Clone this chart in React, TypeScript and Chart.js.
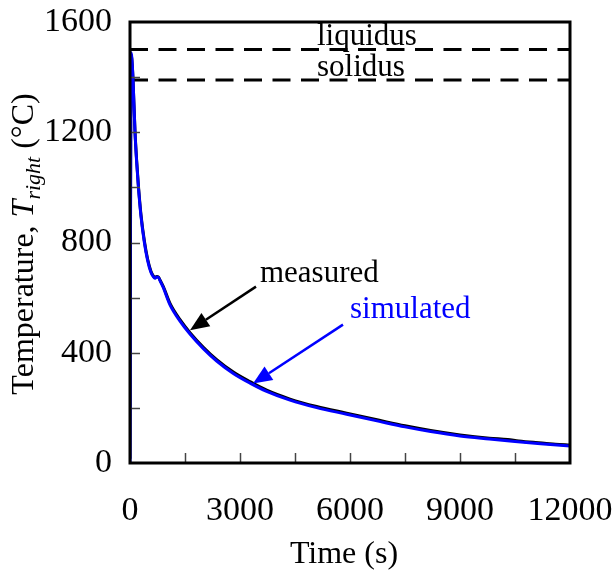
import React, { useEffect, useRef } from "react";
import { Chart, registerables } from "chart.js";
Chart.register(...registerables);

const FONT = "'Liberation Serif', 'Times New Roman', Times, serif";

// simulated (blue)
const simTime = [0, 30, 50, 82, 136, 180, 227, 300, 391, 480, 573, 640, 682, 730, 773, 830, 909, 1091, 1364, 1636, 2000, 2364, 2818, 3273, 3727, 4364, 5091, 5909, 6800, 7500, 8200, 9000, 9800, 10500, 11200, 12000];
const simTemp = [0, 1488, 1470, 1393, 1202, 1095, 1005, 895, 801, 735, 691, 675, 670, 675, 674, 658, 636, 574, 515, 468, 415, 370, 325, 290, 260, 228, 201, 177, 151, 131, 114, 98, 87, 78, 70, 62];

// measured (black)
const measTime = [0, 30, 50, 82, 136, 180, 227, 300, 391, 480, 573, 640, 682, 730, 773, 830, 909, 1091, 1364, 1636, 2000, 2364, 2818, 3273, 3727, 4364, 5091, 5909, 6800, 7500, 8200, 9000, 9800, 10300, 10600, 11000, 11300, 11600, 12000];
const measTemp = [15, 1482, 1465, 1392, 1205, 1100, 1010, 900, 806, 740, 695, 678, 672, 677, 675, 661, 640, 579, 520, 473, 420, 375, 330, 295, 264, 232, 205, 181, 155, 135, 118, 102, 90, 85, 80, 75, 72, 68, 65];

const liquidusT = 1500;
const solidusT = 1390;

const xMinorTicks = [1500, 3000, 4500, 6000, 7500, 9000, 10500];
const yMinorTicks = [200, 400, 600, 800, 1000, 1200, 1400];

const labels = [
  { text: "liquidus", t: 5100, T: 1516, color: "#000" },
  { text: "solidus", t: 5100, T: 1403, color: "#000" },
  { text: "measured", t: 3545, T: 655, color: "#000" },
  { text: "simulated", t: 6000, T: 527, color: "#0000ff" },
];

const arrows = [
  { t0: 3436, T0: 640, t1: 1636, T1: 482, color: "#000" },
  { t0: 5809, T0: 502, t1: 3355, T1: 288, color: "#0000ff" },
];

const decor = {
  id: "decor",
  afterDatasetsDraw(chart: any) {
    const { ctx, chartArea: a, scales } = chart;
    const x = scales.x;
    const y = scales.y;
    ctx.save();
    // inside ticks
    ctx.strokeStyle = "#444";
    ctx.lineWidth = 1.5;
    for (const v of xMinorTicks) {
      const px = Math.round(x.getPixelForValue(v)) + 0.5;
      ctx.beginPath();
      ctx.moveTo(px, a.bottom);
      ctx.lineTo(px, a.bottom - 10);
      ctx.stroke();
    }
    for (const v of yMinorTicks) {
      const py = Math.round(y.getPixelForValue(v)) + 0.5;
      ctx.beginPath();
      ctx.moveTo(a.left, py);
      ctx.lineTo(a.left + 10, py);
      ctx.stroke();
    }
    // frame
    ctx.strokeStyle = "#000";
    ctx.lineWidth = 3;
    ctx.strokeRect(a.left, a.top, a.right - a.left, a.bottom - a.top);

    // labels
    ctx.font = `31px ${FONT}`;
    ctx.textAlign = "left";
    ctx.textBaseline = "alphabetic";
    for (const l of labels) {
      ctx.fillStyle = l.color;
      ctx.fillText(l.text, x.getPixelForValue(l.t), y.getPixelForValue(l.T));
    }
    // arrows
    for (const ar of arrows) {
      const x0 = x.getPixelForValue(ar.t0), y0 = y.getPixelForValue(ar.T0);
      const x1 = x.getPixelForValue(ar.t1), y1 = y.getPixelForValue(ar.T1);
      const ang = Math.atan2(y1 - y0, x1 - x0);
      const hl = 19, hw = 8;
      const bx = x1 - hl * Math.cos(ang), by = y1 - hl * Math.sin(ang);
      ctx.strokeStyle = ar.color;
      ctx.fillStyle = ar.color;
      ctx.lineWidth = 2.5;
      ctx.beginPath();
      ctx.moveTo(x0, y0);
      ctx.lineTo(bx, by);
      ctx.stroke();
      ctx.beginPath();
      ctx.moveTo(x1, y1);
      ctx.lineTo(bx + hw * Math.sin(ang), by - hw * Math.cos(ang));
      ctx.lineTo(bx - hw * Math.sin(ang), by + hw * Math.cos(ang));
      ctx.closePath();
      ctx.fill();
    }

    // x title
    ctx.fillStyle = "#000";
    ctx.font = `32px ${FONT}`;
    ctx.textAlign = "center";
    ctx.textBaseline = "alphabetic";
    ctx.fillText("Time (s)", 344, 563);

    // y title (rotated, mixed styles)
    const parts = [
      { s: "Temperature, ", f: `32px ${FONT}`, dy: 0 },
      { s: "T", f: `italic 32px ${FONT}`, dy: 0 },
      { s: "right", f: `italic 22px ${FONT}`, dy: 7 },
      { s: " (°C)", f: `32px ${FONT}`, dy: 0 },
    ];
    let total = 0;
    for (const p of parts) {
      ctx.font = p.f;
      total += ctx.measureText(p.s).width;
    }
    ctx.translate(33, 244);
    ctx.rotate(-Math.PI / 2);
    ctx.textAlign = "left";
    let cx = -total / 2;
    for (const p of parts) {
      ctx.font = p.f;
      ctx.fillText(p.s, cx, p.dy);
      cx += ctx.measureText(p.s).width;
    }
    ctx.restore();
  },
};

const zeroPad = (s: any) => {
  s.paddingLeft = 0;
  s.paddingRight = 0;
  s.paddingTop = 0;
  s.paddingBottom = 0;
};

export default function App() {
  const ref = useRef<HTMLCanvasElement>(null);
  useEffect(() => {
    if (!ref.current) return;
    const chart = new Chart(ref.current, {
      type: "line",
      data: {
        datasets: [
          {
            label: "simulated",
            data: simTime.map((t, i) => ({ x: t, y: simTemp[i] })),
            borderColor: "#0000ff",
            borderWidth: 3,
            pointRadius: 0,
            cubicInterpolationMode: "monotone",
          },
          {
            label: "measured",
            data: measTime.map((t, i) => ({ x: t, y: measTemp[i] })),
            borderColor: "#000",
            borderWidth: 3,
            pointRadius: 0,
            cubicInterpolationMode: "monotone",
          },
          {
            label: "liquidus",
            data: [{ x: 0, y: liquidusT }, { x: 12000, y: liquidusT }],
            borderColor: "#000",
            borderWidth: 3,
            borderDash: [18, 10.5],
            pointRadius: 0,
          },
          {
            label: "solidus",
            data: [{ x: 0, y: solidusT }, { x: 12000, y: solidusT }],
            borderColor: "#000",
            borderWidth: 3,
            borderDash: [18, 10.5],
            pointRadius: 0,
          },
        ],
      },
      options: {
        animation: false,
        responsive: false,
        maintainAspectRatio: false,
        layout: { padding: { top: 22, right: 45, left: 0, bottom: 0 } },
        plugins: { legend: { display: false }, tooltip: { enabled: false } },
        scales: {
          x: {
            type: "linear",
            min: 0,
            max: 12000,
            grid: { display: false, drawTicks: false },
            border: { display: false },
            ticks: {
              stepSize: 3000,
              padding: 28,
              color: "#000",
              maxRotation: 0,
              font: { family: FONT, size: 34 },
              callback: (v: any) => String(v),
            },
            afterFit: (s: any) => { s.height = 115; zeroPad(s); },
          },
          y: {
            min: 0,
            max: 1600,
            grid: { display: false, drawTicks: false },
            border: { display: false },
            ticks: {
              stepSize: 400,
              padding: 18,
              color: "#000",
              font: { family: FONT, size: 34 },
              callback: (v: any) => String(v),
            },
            afterFit: (s: any) => { s.width = 130; zeroPad(s); },
          },
        },
      },
      plugins: [decor],
    });
    return () => chart.destroy();
  }, []);
  return (
    <div style={{ position: "fixed", left: 0, top: 0, width: 615, height: 578, background: "#fff" }}>
      <canvas ref={ref} width={615} height={578} style={{ width: 615, height: 578, display: "block" }} />
    </div>
  );
}
